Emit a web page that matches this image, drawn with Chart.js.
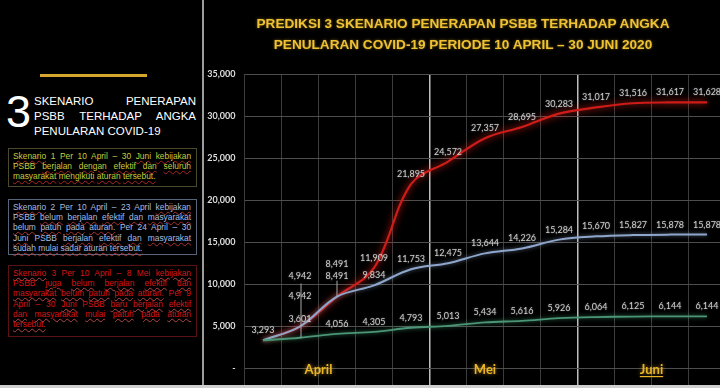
<!DOCTYPE html>
<html>
<head>
<meta charset="utf-8">
<script src="https://cdn.jsdelivr.net/npm/chart.js@4.4.1/dist/chart.umd.min.js"></script>
<style>
  html,body{margin:0;padding:0;}
  body{width:720px;height:388px;background:#000;overflow:hidden;position:relative;font-family:'Liberation Sans',Arial,sans-serif;}
  .abs{position:absolute;}
  .hl{display:block;text-align:justify;text-align-last:justify;white-space:nowrap;}
  .hl.last{text-align-last:left;}
  .box{position:absolute;left:8px;width:178px;padding:2px 5px 0 4px;font-size:8.4px;line-height:10.2px;box-sizing:content-box;}
  .u{text-decoration:underline wavy;text-decoration-thickness:1px;text-underline-offset:1px;}
  #b1{top:148px;height:35px;border:1px solid #4b4a2c;color:#c6cc3e;}
  #b1 .u{text-decoration-color:rgba(216,48,48,0.75);}
  #b2{top:199px;height:52px;border:1px solid #56657c;color:#a9bde0;}
  #b2 .u{text-decoration-color:rgba(216,64,64,0.75);}
  #b3{top:265px;height:68px;border:1px solid #5a1212;color:#d81414;}
  #b3 .u{text-decoration-color:rgba(240,96,96,0.7);}
</style>
</head>
<body>
<div class="abs" style="left:40px;top:74px;width:107px;height:3px;background:#d6a62e"></div>
<div class="abs" style="left:6px;top:89px;font-size:45px;line-height:45px;color:#fff;">3</div>
<div class="abs" style="left:34px;top:94px;width:162px;font-size:11.5px;line-height:15px;color:#fff;">
  <span class="hl">SKENARIO PENERAPAN</span>
  <span class="hl">PSBB TERHADAP ANGKA</span>
  <span class="hl last">PENULARAN COVID-19</span>
</div>
<div class="box" id="b1"></div>
<div class="box" id="b2"></div>
<div class="box" id="b3"></div>

<div class="abs" style="left:200px;top:0;width:540px;height:388px;">
  <canvas id="c" width="540" height="388"></canvas>
</div>
<div class="abs" style="left:202px;top:0;width:2px;height:388px;background:#9c9c9c"></div>
<div class="abs" style="left:208px;top:13px;width:510px;text-align:center;color:#efc234;font-weight:bold;font-size:13.6px;line-height:21px;text-shadow:0 0 3px rgba(240,190,40,0.5);">
  PREDIKSI 3 SKENARIO PENERAPAN PSBB TERHADAP ANGKA<br>PENULARAN COVID-19 PERIODE 10 APRIL – 30 JUNI 2020
</div>
<div class="abs" style="left:0;top:385px;width:720px;height:3px;background:#cfcfcf"></div>

<script>
// ---- data ----
const categories = ['10 Apr','14 Apr','18 Apr','22 Apr','26 Apr','1 Mei','8 Mei','15 Mei','22 Mei','1 Jun','10 Jun','20 Jun','30 Jun'];
const skenario1 = [3293, 3601, 4056, 4305, 4793, 5013, 5434, 5616, 5926, 6064, 6125, 6144, 6144];
const skenario2 = [3293, 4942, 8491, 9834, 11753, 12475, 13644, 14226, 15284, 15670, 15827, 15878, 15878];
const skenario3 = [3293, 4942, 8491, 11909, 21895, 24572, 27357, 28695, 30283, 31017, 31516, 31617, 31628];
const seriesNames = ['Skenario 1', 'Skenario 2', 'Skenario 3'];
const monthNames = ['April', 'Mei', 'Juni'];
const yTickValues = [0, 5000, 10000, 15000, 20000, 25000, 30000, 35000];

// ---- side panel texts ----
const boxLines = {
  b1: ['Skenario 1 Per 10 April – 30 Juni kebijakan', 'PSBB berjalan dengan efektif dan seluruh', 'masyarakat mengikuti aturan tersebut.'],
  b2: ['Skenario 2 Per 10 April – 23 April kebijakan', 'PSBB belum berjalan efektif dan masyarakat', 'belum patuh pada aturan. Per 24 April – 30', 'Juni PSBB berjalan efektif dan masyarakat', 'sudah mulai sadar aturan tersebut.'],
  b3: ['Skenario 3 Per 10 April – 8 Mei kebijakan', 'PSBB juga belum berjalan efektif dan', 'masyarakat belum patuh pada aturan. Per 9', 'April – 30 Juni PSBB baru berjalan efektif', 'dan masyarakat mulai patuh pada aturan', 'tersebut.']
};
const noMark = new Set(['Per', 'April', 'PSBB', 'Mei', '–']);
for (const id in boxLines) {
  const el = document.getElementById(id);
  boxLines[id].forEach((line, li, arr) => {
    const s = document.createElement('span');
    s.className = 'hl' + (li === arr.length - 1 ? ' last' : '');
    line.split(' ').forEach((w, wi) => {
      if (wi) s.appendChild(document.createTextNode(' '));
      const clean = w.replace(/[.,]/g, '');
      if (noMark.has(clean) || /^\d+$/.test(clean)) {
        s.appendChild(document.createTextNode(w));
      } else {
        const sp = document.createElement('span');
        sp.className = 'u';
        sp.textContent = w;
        s.appendChild(sp);
      }
    });
    el.appendChild(s);
  });
}

// ---- label placement (styling, not data) ----
const labelShift = { 2: {1: -50, 2: -33}, 1: {1: -30, 2: -21}, 0: {1: -19} };
const leaders = { 2: {1: 7, 2: 16}, 0: {1: 6} };
const monthAt = [1.5, 6, 10.5];
const fmt = v => v.toLocaleString('en-US');

const glowPlugin = {
  id: 'glow',
  beforeDatasetDraw(chart, args) {
    const c = chart.ctx;
    c.save();
    const glows = ['rgba(90,210,150,0.55)', 'rgba(170,200,240,0.5)', 'rgba(255,40,30,0.9)'];
    c.shadowColor = glows[args.index];
    c.shadowBlur = args.index === 2 ? 7 : 4;
  },
  afterDatasetDraw(chart) { chart.ctx.restore(); }
};

const labelPlugin = {
  id: 'labels',
  afterDatasetsDraw(chart) {
    const c = chart.ctx;
    c.save();
    c.font = '9px Lato';
    c.textAlign = 'center';
    c.textBaseline = 'middle';
    chart.data.datasets.forEach((ds, di) => {
      const meta = chart.getDatasetMeta(di);
      meta.data.forEach((pt, i) => {
        if (i === 0 && di !== 2) return;
        const dy = (labelShift[di] && labelShift[di][i] !== undefined) ? labelShift[di][i] : -10;
        const y = pt.y + dy;
        if (leaders[di] && leaders[di][i] !== undefined) {
          c.strokeStyle = '#a8a8a8';
          c.lineWidth = 1;
          c.beginPath();
          if (leaders[di][i] === 16) { c.moveTo(pt.x, pt.y - 16); c.lineTo(pt.x, pt.y); }
          else { c.moveTo(pt.x + 1, y + leaders[di][i]); c.lineTo(pt.x + 1, pt.y); }
          c.stroke();
        }
        c.shadowColor = 'rgba(255,255,255,0.35)';
        c.shadowBlur = 2;
        c.fillStyle = '#cdcdcd';
        c.fillText(fmt(ds.data[i]), pt.x, y);
        c.shadowBlur = 0;
      });
    });
    // month labels
    const xs = chart.scales.x;
    const base = chart.chartArea.bottom + 2;
    c.font = 'bold 13px Lato';
    c.fillStyle = '#ebb424';
    monthNames.forEach((m, k) => {
      const x = xs.getPixelForValue(monthAt[k]);
      c.shadowColor = 'rgba(255,200,60,0.6)';
      c.shadowBlur = 4;
      c.fillText(m, x, base);
      c.shadowBlur = 0;
      if (m === 'Juni') {
        const w = c.measureText(m).width;
        c.fillRect(x - w / 2, base + 6, w, 1.2);
      }
    });
    c.restore();
  }
};

new Chart(document.getElementById('c'), {
  type: 'line',
  data: {
    labels: categories,
    datasets: [
      { label: seriesNames[0], data: skenario1, borderColor: '#4a9676', borderWidth: 1.8, tension: 0.35, pointRadius: 0 },
      { label: seriesNames[1], data: skenario2, borderColor: '#8ea6cb', borderWidth: 2, tension: 0.35, pointRadius: 0 },
      { label: seriesNames[2], data: skenario3, borderColor: '#cf1c18', borderWidth: 2.2, tension: 0.35, pointRadius: 0 }
    ]
  },
  options: {
    responsive: false,
    devicePixelRatio: 1,
    animation: false,
    layout: { padding: { top: 74, bottom: 3, left: 0, right: 14.5 } },
    plugins: { legend: { display: false }, tooltip: { enabled: false } },
    scales: {
      x: {
        type: 'category',
        offset: true,
        border: { display: false },
        grid: {
          offset: true,
          drawTicks: true,
          tickLength: 17,
          lineWidth: ctx => (ctx.index === 5 || ctx.index === 9) ? 1.5 : 1,
          color: ctx => (ctx.index === 5 || ctx.index === 9) ? '#bdbdbd' : '#3c3c3c'
        },
        ticks: { display: false }
      },
      y: {
        min: 0,
        max: 35000,
        afterBuildTicks: s => { s.ticks = yTickValues.map(v => ({ value: v })); },
        afterFit: s => { s.width = 44.5; },
        border: { display: false },
        grid: { color: '#4e4e4e', drawTicks: false },
        ticks: {
          padding: 9,
          color: '#dedede',
          font: { family: 'Lato', weight: 'bold', size: 9 },
          callback: v => v === 0 ? '-' : fmt(v)
        }
      }
    }
  },
  plugins: [glowPlugin, labelPlugin]
});
</script>
</body>
</html>
